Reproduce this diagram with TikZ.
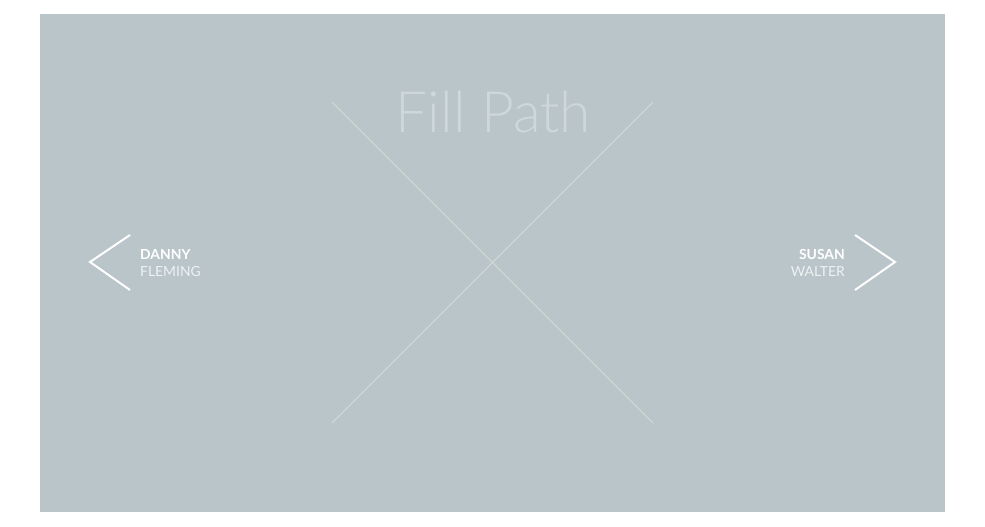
\documentclass[tikz,border=0pt]{standalone}
\usepackage{fontspec}
\setmainfont{Lato}
\newfontfamily\latolight{Lato Light}

\definecolor{slate}{RGB}{186,197,201}
\definecolor{titlegray}{RGB}{206,215,217}
\definecolor{crossgray}{RGB}{212,218,212}
\definecolor{palewhite}{RGB}{238,242,243}

\tikzset{
  crossline/.style={draw=crossgray, line width=1pt},
  chevron/.style={draw=white, line width=2pt},
  firstname/.style={inner sep=0, text=white, font=\bfseries\fontsize{13.9}{14}\selectfont},
  lastname/.style={inner sep=0, text=palewhite, font=\fontsize{13.9}{14}\selectfont}
}

\begin{document}
\begin{tikzpicture}[x=1pt,y=-1pt]

\useasboundingbox (0,0) rectangle (985,527);
\fill[slate] (40,14) rectangle (945,512);

\draw[crossline] (332,102) -- (653,423);
\draw[crossline] (653,102) -- (332,423);

\node[anchor=base, inner sep=0, text=titlegray, font=\latolight\fontsize{57}{57}\selectfont] (title) at (493.5,132) {Fill Path};

\draw[chevron] (130,235) -- (90,262) -- (130,290);
\node[firstname, anchor=base west] (danny) at (140,259) {DANNY};
\node[lastname, anchor=base west] (fleming) at (140,276) {FLEMING};

\draw[chevron] (855,235) -- (895,262) -- (855,290);
\node[firstname, anchor=base east] (susan) at (845,259) {SUSAN};
\node[lastname, anchor=base east] (walter) at (845,276) {WALTER};

\end{tikzpicture}
\end{document}
